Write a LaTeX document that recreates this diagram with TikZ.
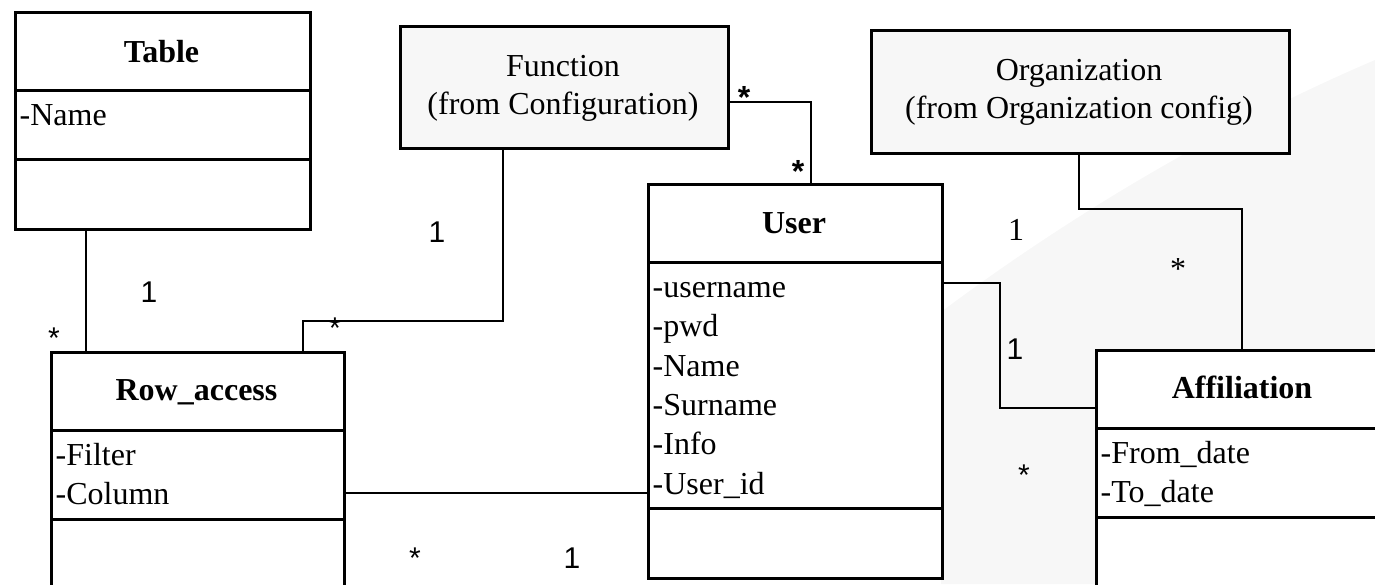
\documentclass[tikz,border=0pt]{standalone}
\usepackage{fontspec}
\setmainfont{Liberation Serif}
\newfontfamily\labelsans{Liberation Sans}

\tikzset{
  classbox/.style={draw, line width=3pt, fill=white, rectangle, inner sep=0pt, anchor=north west},
  refbox/.style={classbox, fill=black!3},
  divider/.style={line width=3pt},
  assoc/.style={line width=1.7pt},
  classtitle/.style={font=\fontsize{32}{38}\selectfont\bfseries, anchor=base, inner sep=0pt},
  attr/.style={font=\fontsize{32}{38}\selectfont, anchor=base west, inner sep=0pt},
  reftext/.style={font=\fontsize{32}{38}\selectfont, anchor=base, inner sep=0pt},
  mult/.style={font=\labelsans\fontsize{30}{36}\selectfont, anchor=north, inner sep=0pt},
  multbold/.style={font=\labelsans\bfseries\fontsize{32}{36}\selectfont, anchor=north, inner sep=0pt},
  multserif/.style={font=\fontsize{32}{38}\selectfont, anchor=north, inner sep=0pt},
}

\begin{document}
\begin{tikzpicture}[x=1pt, y=-1pt]
\useasboundingbox (0,0) rectangle (1375,584);
\clip (0,0) rectangle (1375,584);

% pale backdrop on the right
\fill[black!3] (941,584) -- (941,312) .. controls (1080,208) and (1230,122) .. (1375,60) -- (1375,584) -- cycle;

% ---- classes ----
\node[classbox, minimum width=295pt, minimum height=217pt] (table) at (14,11) {};
\draw[divider] ([yshift=-79pt]table.north west) -- ([yshift=-79pt]table.north east);
\draw[divider] ([yshift=-148pt]table.north west) -- ([yshift=-148pt]table.north east);
\node[classtitle] (tableT) at (161.5,62) {Table};
\node[attr] (tableA1) at (19.5,125) {-Name};

\node[refbox, minimum width=328pt, minimum height=122pt] (function) at (399,25) {};
\node[reftext] (functionT1) at (563,76) {Function};
\node[reftext] (functionT2) at (563,114) {(from Configuration)};

\node[refbox, minimum width=418pt, minimum height=123pt] (org) at (870,29) {};
\node[reftext] (orgT1) at (1079,80) {Organization};
\node[reftext] (orgT2) at (1079,118) {(from Organization config)};

\node[classbox, minimum width=294pt, minimum height=394pt] (user) at (647,183) {};
\draw[divider] ([yshift=-79pt]user.north west) -- ([yshift=-79pt]user.north east);
\draw[divider] ([yshift=-325pt]user.north west) -- ([yshift=-325pt]user.north east);
\node[classtitle] (userT) at (794,233) {User};
\node[attr] (userA1) at (652.5,297.5) {-username};
\node[attr] (userA2) at (652.5,336.8) {-pwd};
\node[attr] (userA3) at (652.5,376) {-Name};
\node[attr] (userA4) at (652.5,415.3) {-Surname};
\node[attr] (userA5) at (652.5,454.6) {-Info};
\node[attr] (userA6) at (652.5,494) {-User\_id};

\node[classbox, minimum width=293pt, minimum height=300pt] (rowaccess) at (50,351) {};
\draw[divider] ([yshift=-79pt]rowaccess.north west) -- ([yshift=-79pt]rowaccess.north east);
\draw[divider] ([yshift=-168pt]rowaccess.north west) -- ([yshift=-168pt]rowaccess.north east);
\node[classtitle] (rowaccessT) at (196.5,400) {Row\_access};
\node[attr] (rowaccessA1) at (55.5,465) {-Filter};
\node[attr] (rowaccessA2) at (55.5,504) {-Column};

\node[classbox, minimum width=294pt, minimum height=300pt] (affil) at (1095,349) {};
\draw[divider] ([yshift=-79pt]affil.north west) -- ([yshift=-79pt]affil.north east);
\draw[divider] ([yshift=-168pt]affil.north west) -- ([yshift=-168pt]affil.north east);
\node[classtitle] (affilT) at (1242,398) {Affiliation};
\node[attr] (affilA1) at (1100.5,463) {-From\_date};
\node[attr] (affilA2) at (1100.5,502) {-To\_date};

% ---- associations ----
\coordinate (tr) at (86,0);
\draw[assoc] (table.south -| tr) -- (rowaccess.north -| tr);

\coordinate (fr1) at (503,321);
\coordinate (fr2) at (303,321);
\draw[assoc] (function.south -| fr1) -- (fr1) -- (fr2) -- (rowaccess.north -| fr2);

\coordinate (fu) at (811,102);
\draw[assoc] (function.east |- fu) -- (fu) -- (user.north -| fu);

\coordinate (ru) at (0,493);
\draw[assoc] (rowaccess.east |- ru) -- (user.west |- ru);

\coordinate (ua1) at (1000,283);
\coordinate (ua2) at (1000,408);
\draw[assoc] (user.east |- ua1) -- (ua1) -- (ua2) -- (affil.west |- ua2);

\coordinate (oa1) at (1079,209);
\coordinate (oa2) at (1242,209);
\draw[assoc] (org.south -| oa1) -- (oa1) -- (oa2) -- (affil.north -| oa2);

% ---- multiplicities ----
\node[mult] (m1) at (149,282) {1};
\node[mult] (m2) at (54,328) {*};
\node[mult] (m3) at (437,222) {1};
\node[mult] (m4) at (335,318) {*};
\node[multbold] (m5) at (744,86) {*};
\node[multbold] (m6) at (798,160) {*};
\node[mult] (m7) at (415,548) {*};
\node[mult] (m8) at (572,548) {1};
\node[multserif] (m9) at (1016,219) {1};
\node[multserif] (m10) at (1178,258) {*};
\node[mult] (m11) at (1015,339) {1};
\node[mult] (m12) at (1024,465) {*};
\end{tikzpicture}
\end{document}
